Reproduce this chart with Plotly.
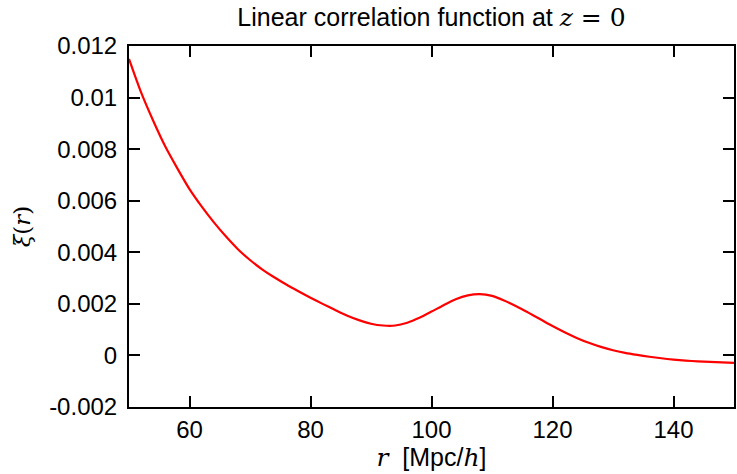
import plotly.graph_objects as go

r_vals = [50, 52, 54, 56, 58, 60, 62, 64, 66, 68, 70, 72, 74, 76, 78, 80,
          82, 84, 86, 88, 90, 92, 94, 96, 98, 100, 102, 104, 106, 108, 110,
          112, 114, 116, 118, 120, 122, 124, 126, 128, 130, 132, 134, 136,
          138, 140, 142, 144, 146, 148, 150]
xi_vals = [0.01150, 0.0102, 0.0091, 0.0081, 0.00725, 0.00645, 0.00578, 0.00517,
           0.00462, 0.00412, 0.00370, 0.00334, 0.00303, 0.00275, 0.00249,
           0.00224, 0.00200, 0.00177, 0.00155, 0.00137, 0.00123, 0.00116,
           0.00116, 0.00127, 0.00146, 0.00170, 0.00195, 0.00218, 0.00233,
           0.00238, 0.00231, 0.00213, 0.00191, 0.00166, 0.00140, 0.00114,
           0.00090, 0.00068, 0.00049, 0.00033, 0.00020, 0.00010, 0.00002,
           -0.00005, -0.00011, -0.00016, -0.00020, -0.00023, -0.00025,
           -0.00027, -0.00029]

x_ticks = [60, 80, 100, 120, 140]
y_ticks = [-0.002, 0, 0.002, 0.004, 0.006, 0.008, 0.01, 0.012]
y_ticktext = ["-0.002", "0", "0.002", "0.004", "0.006", "0.008", "0.01", "0.012"]

SANS = "Liberation Sans Narrow, Liberation Sans, Arial, sans-serif"
SERIF = "DejaVu Serif"

fig = go.Figure()
fig.add_trace(go.Scatter(x=r_vals, y=xi_vals, mode="lines",
                         line=dict(color="#ff0000", width=2.2,
                                   shape="spline", smoothing=0.8),
                         showlegend=False))

axis_common = dict(showline=True, linecolor="black", linewidth=2,
                   mirror="ticks", ticks="inside", ticklen=11, tickwidth=2,
                   tickcolor="black", showgrid=False, zeroline=False,
                   tickfont=dict(family=SANS, size=24, color="black"))

fig.update_layout(
    width=737, height=474,
    margin=dict(l=129, r=1, t=46, b=67),
    paper_bgcolor="white", plot_bgcolor="white",
    title=dict(text="Linear correlation function at <span style='font-family:DejaVu Serif'><i>z</i> = 0</span>",
               xref="paper", x=0.5, xanchor="center", y=0.983, yanchor="top",
               font=dict(family=SANS, size=25, color="black")),
    xaxis=dict(range=[50, 150], tickvals=x_ticks,
               title=dict(text="<span style='font-family:DejaVu Serif'><i>r</i></span>&nbsp; [Mpc/<span style='font-family:DejaVu Serif'><i>h</i></span>]",
                          font=dict(family=SANS, size=25, color="black"),
                          standoff=2),
               **axis_common),
    yaxis=dict(range=[-0.002, 0.012], tickvals=y_ticks, ticktext=y_ticktext,
               ticklabelstandoff=5,
               title=dict(text="<i>ξ</i>(<i>r</i>)",
                          font=dict(family=SERIF, size=23, color="black"),
                          standoff=12),
               **axis_common),
)

fig.write_html("out.html")
